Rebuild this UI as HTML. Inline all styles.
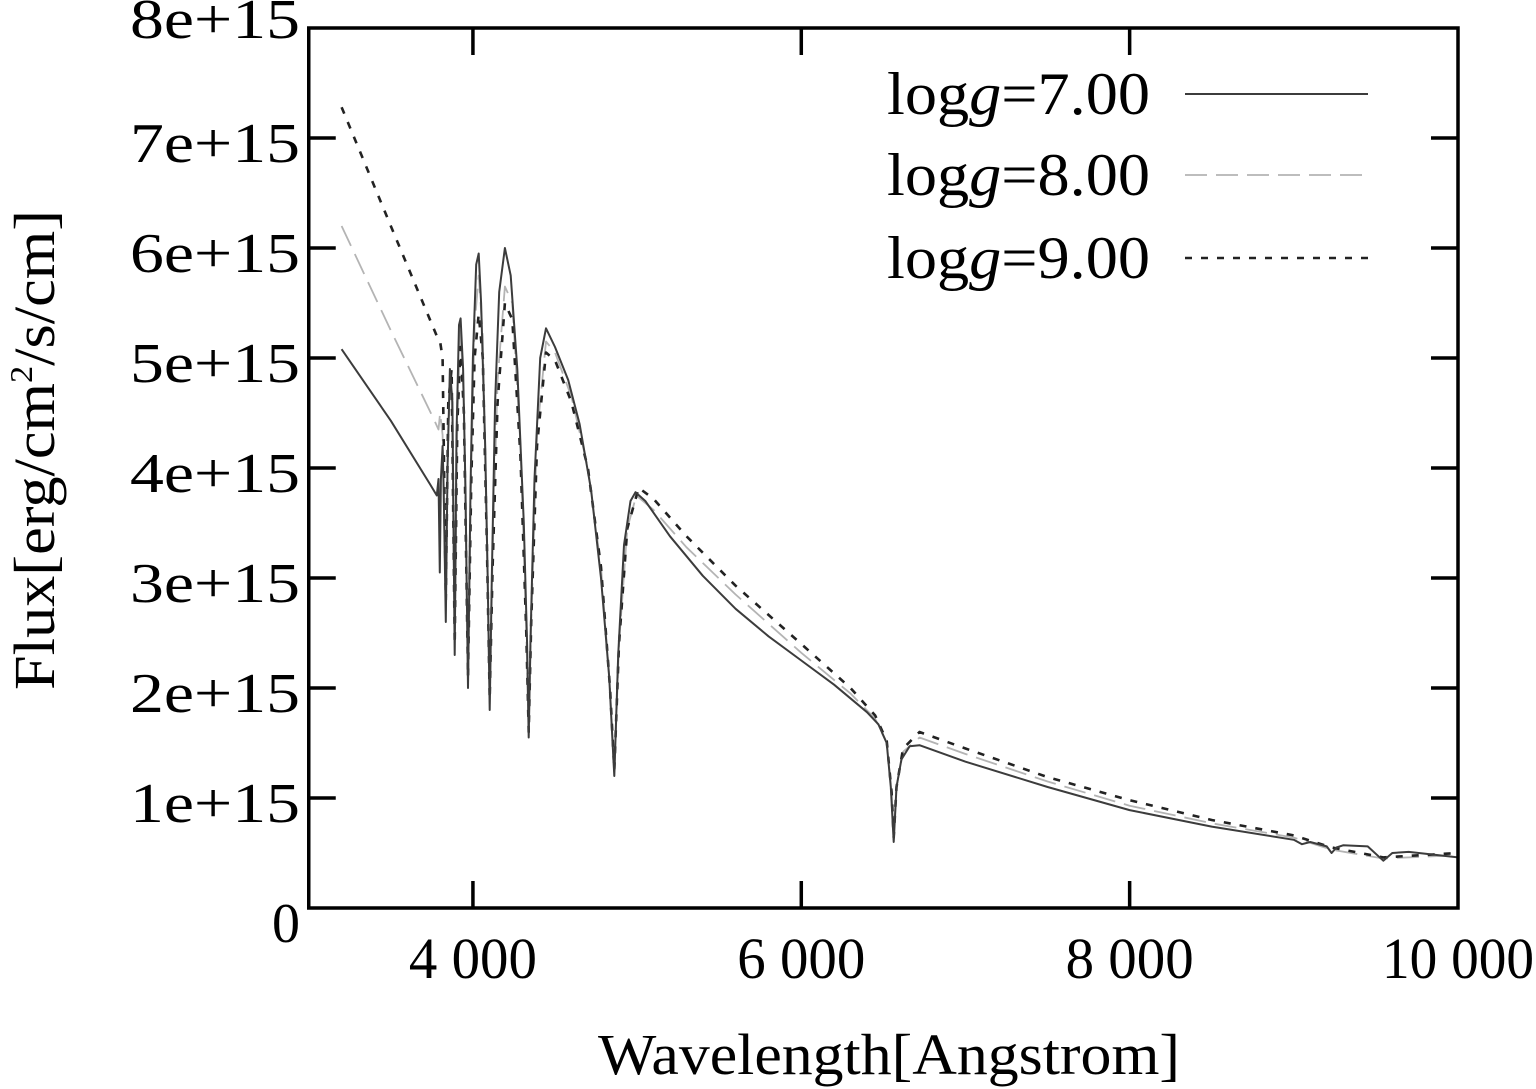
<!DOCTYPE html>
<html><head><meta charset="utf-8"><style>
html,body{margin:0;padding:0;background:#fff;}
svg{display:block;font-family:"Liberation Serif",serif;}
</style></head><body>
<svg id="chart" width="1536" height="1089" viewBox="0 0 1536 1089" xmlns="http://www.w3.org/2000/svg">
<g id="plot"></g>
<g id="axes"></g>
<text x="598" y="1074" font-size="58" textLength="582" lengthAdjust="spacingAndGlyphs">Wavelength[Angstrom]</text>
<text transform="translate(54,690) rotate(-90)" font-size="58" textLength="480" lengthAdjust="spacingAndGlyphs">Flux[erg/cm<tspan font-size="32" dy="-22">2</tspan><tspan dy="22">/s/cm]</tspan></text>
<g id="legend"></g>
</svg>
<script>
const xTicks = [4000, 6000, 8000, 10000];
const xTickLabels = ["4 000", "6 000", "8 000", "10 000"];
const yTicks = [0, 1, 2, 3, 4, 5, 6, 7, 8];
const yTickLabels = ["0", "1e+15", "2e+15", "3e+15", "4e+15", "5e+15", "6e+15", "7e+15", "8e+15"];
const seriesNames = ["logg=7.00", "logg=8.00", "logg=9.00"];
const wl7 = [3200,3500,3740,3780,3790,3798,3805,3815,3822,3835,3845,3860,3875,3889,3900,3915,3925,3940,3955,3970,3985,4000,4020,4035,4050,4075,4090,4102,4115,4135,4160,4195,4230,4270,4310,4330,4340,4350,4375,4410,4445,4500,4580,4650,4720,4780,4830,4861,4885,4920,4960,4990,5050,5200,5400,5600,5800,6000,6200,6400,6470,6520,6545,6563,6580,6610,6660,6720,7000,7500,8000,8500,9000,9050,9100,9200,9230,9260,9300,9450,9545,9600,9700,10000];
const flux7 = [5.08,4.43,3.85,3.75,3.9,3.05,3.9,4.2,3.8,2.6,4.0,4.9,4.6,2.3,4.3,5.3,5.36,4.9,3.8,2.0,3.8,5.0,5.85,5.95,5.5,4.2,3.0,1.8,3.0,4.6,5.6,6.0,5.75,4.9,3.5,2.4,1.55,2.4,3.9,5.0,5.27,5.1,4.8,4.4,3.8,3.0,2.1,1.2,2.3,3.3,3.7,3.78,3.7,3.38,3.02,2.72,2.47,2.25,2.03,1.78,1.67,1.5,1.1,0.6,1.1,1.35,1.47,1.48,1.33,1.1,0.89,0.74,0.62,0.58,0.6,0.56,0.5,0.55,0.57,0.56,0.43,0.5,0.51,0.46];
const wl8 = [3200,3500,3760,3790,3800,3815,3835,3850,3870,3889,3905,3925,3945,3970,3990,4010,4035,4060,4085,4102,4120,4150,4195,4240,4290,4325,4340,4355,4390,4445,4500,4600,4700,4780,4835,4861,4890,4940,4995,5100,5300,5600,6000,6300,6450,6520,6550,6563,6580,6620,6720,7000,7500,8000,8500,9000,9230,9545,10000];
const flux8 = [6.2,5.25,4.45,4.35,4.5,4.3,2.7,4.4,4.8,2.35,4.4,5.25,4.6,2.05,4.0,5.3,5.75,5.2,3.3,1.85,3.2,4.8,5.65,5.5,4.2,2.5,1.6,2.6,4.3,5.15,5.05,4.65,4.0,3.1,2.0,1.2,2.4,3.45,3.75,3.62,3.28,2.85,2.32,1.95,1.72,1.5,1.05,0.62,1.1,1.42,1.55,1.4,1.15,0.93,0.77,0.64,0.53,0.45,0.48];
const wl9 = [3200,3500,3780,3800,3815,3835,3850,3870,3889,3905,3925,3945,3970,3990,4010,4035,4060,4085,4102,4120,4150,4195,4240,4290,4325,4340,4355,4390,4445,4500,4600,4700,4780,4835,4861,4890,4940,5010,5100,5300,5600,6000,6300,6450,6520,6550,6563,6580,6620,6720,7000,7500,8000,8500,9000,9230,9545,10000];
const flux9 = [7.28,6.2,5.2,5.15,5.0,2.8,4.6,4.9,2.4,4.4,5.1,4.5,2.1,3.9,5.0,5.4,5.0,3.3,1.9,3.1,4.6,5.5,5.35,4.1,2.5,1.6,2.6,4.2,5.05,4.98,4.6,4.0,3.1,2.0,1.25,2.4,3.45,3.82,3.72,3.38,2.93,2.4,2.0,1.75,1.52,1.05,0.64,1.1,1.45,1.6,1.45,1.19,0.98,0.8,0.66,0.55,0.46,0.5];

const X0=308.75, X1=1458, Y0=908, Y1=28;
const xS = w => X0 + (w-3000)/(10000-3000)*(X1-X0);
const yS = f => Y0 - f/8*(Y0-Y1);
const NS="http://www.w3.org/2000/svg";
function mk(tag, attrs, parent){const e=document.createElementNS(NS,tag);for(const k in attrs)e.setAttribute(k,attrs[k]);parent.appendChild(e);return e;}
const plot=document.getElementById('plot'), axes=document.getElementById('axes'), legend=document.getElementById('legend');

const styles=[{stroke:"#3c3c3c",w:2,dash:""},{stroke:"#b4b4b4",w:1.8,dash:"22,9"},{stroke:"#222",w:2.6,dash:"7,9"}];
const data=[[wl7,flux7],[wl8,flux8],[wl9,flux9]];
const order=[1,2,0];
order.forEach(i=>{
  const [wl,fl]=data[i];
  const d=wl.map((w,j)=>(j?'L':'M')+xS(w).toFixed(1)+','+yS(fl[j]).toFixed(1)).join(' ');
  const p=mk('path',{d:d,fill:'none',stroke:styles[i].stroke,'stroke-width':styles[i].w,'stroke-dasharray':styles[i].dash,'stroke-linejoin':'round'},plot);
  
  
});

const fr=mk('rect',{x:X0,y:Y1,width:X1-X0,height:Y0-Y1,fill:'none',stroke:'#000','stroke-width':3.5},axes);


yTicks.forEach((v,i)=>{
  const y=yS(v);
  if(i>0&&i<yTicks.length-1){
    const t1=mk('line',{x1:X0,x2:X0+27,y1:y,y2:y,stroke:'#000','stroke-width':3.5},axes);
    
    
    const t2=mk('line',{x1:X1-27,x2:X1,y1:y,y2:y,stroke:'#000','stroke-width':3.5},axes);
    
    
  }
  const lab=yTickLabels[i];
  const attrs={x:300,y:y+(i===0?34:(i===8?10:24)),'font-size':56,'text-anchor':'end'};
  if(lab.length>1){attrs.textLength=170;attrs.lengthAdjust='spacingAndGlyphs';}
  const lb=mk('text',attrs,axes);
  lb.textContent=lab;
  
  
});
xTicks.forEach((v,i)=>{
  const x=xS(v);
  if(v<10000){
    const t1=mk('line',{x1:x,x2:x,y1:Y0,y2:Y0-27,stroke:'#000','stroke-width':3.5},axes);
    
    
    const t2=mk('line',{x1:x,x2:x,y1:Y1,y2:Y1+27,stroke:'#000','stroke-width':3.5},axes);
    
    
  }
  const lb=mk('text',{x:x,y:978,'font-size':58,'text-anchor':'middle',textLength:(xTickLabels[i].length>5?152:128),lengthAdjust:'spacingAndGlyphs'},axes);
  lb.textContent=xTickLabels[i];
  
  
});
const ly=[94,175,258];
seriesNames.forEach((n,i)=>{
  const g=mk('g',{},legend);
  
  
  const t=mk('text',{x:887,y:ly[i]+20,'font-size':60,textLength:263,lengthAdjust:'spacingAndGlyphs'},g);
  const parts=n.split('g=');
  t.innerHTML='log<tspan font-style="italic">g</tspan>='+parts[1];
  const l=mk('line',{x1:1185,x2:1368,y1:ly[i],y2:ly[i],stroke:styles[i].stroke,'stroke-width':styles[i].w,'stroke-dasharray':styles[i].dash},g);
  
  
});
</script>
</body></html>
